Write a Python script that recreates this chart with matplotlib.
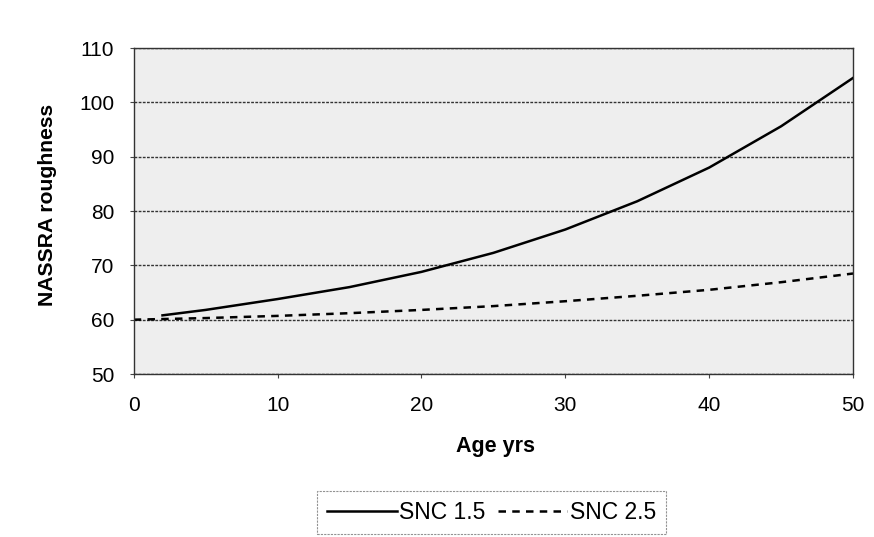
import matplotlib
matplotlib.use("Agg")
import matplotlib.pyplot as plt

plt.rcParams['font.family'] = ['Liberation Sans', 'DejaVu Sans']

age_snc15 = [2, 5, 10, 15, 20, 25, 30, 35, 40, 45, 50]
rough_snc15 = [60.8, 61.8, 63.8, 66.0, 68.8, 72.3, 76.6, 81.8, 88.0, 95.6, 104.5]
age_snc25 = [0, 5, 10, 15, 20, 25, 30, 35, 40, 45, 50]
rough_snc25 = [60.0, 60.3, 60.7, 61.2, 61.8, 62.5, 63.4, 64.4, 65.5, 66.9, 68.5]
x_ticks = [0, 10, 20, 30, 40, 50]
y_ticks = [50, 60, 70, 80, 90, 100, 110]

fig = plt.figure(figsize=(8.74, 5.37), dpi=100)
ax = fig.add_axes([0.153, 0.3035, 0.823, 0.607])
ax.set_facecolor('#eeeeee')
ax.set_xlim(0, 50)
ax.set_ylim(50, 110)
ax.set_xticks(x_ticks)
ax.set_yticks(y_ticks)
ax.grid(axis='y', color='#333333', linewidth=1.0, linestyle=(0, (2, 1)))
ax.set_axisbelow(True)
for s in ax.spines.values():
    s.set_color('#333333')
    s.set_linewidth(1.0)
ax.tick_params(axis='both', labelsize=15, length=3, color='#444444')
ax.tick_params(axis='y', pad=11)
ax.tick_params(axis='x', pad=13)

ax.plot(age_snc15, rough_snc15, color='black', linewidth=1.8, label='SNC 1.5')
ax.plot(age_snc25, rough_snc25, color='black', linewidth=1.8, linestyle=(0, (3, 2.5)), label='SNC 2.5')

ax.set_xlabel('Age yrs', fontsize=15.5, fontweight='bold')
ax.set_ylabel('NASSRA roughness', fontsize=15.2, fontweight='bold')
ax.xaxis.set_label_coords(0.503, -0.190)
ax.yaxis.set_label_coords(-0.107, 0.518)

leg = fig.legend(loc='center', bbox_to_anchor=(0.5624, 0.0456), ncol=2, fontsize=16.5,
                 frameon=True, fancybox=False, handlelength=3.05, handletextpad=0.1,
                 columnspacing=0.52, borderpad=0.44, borderaxespad=0)
leg.get_frame().set_edgecolor('#777777')
leg.get_frame().set_linestyle((0, (2, 1)))
leg.get_frame().set_linewidth(0.8)

fig.savefig('out.png', dpi=100)
